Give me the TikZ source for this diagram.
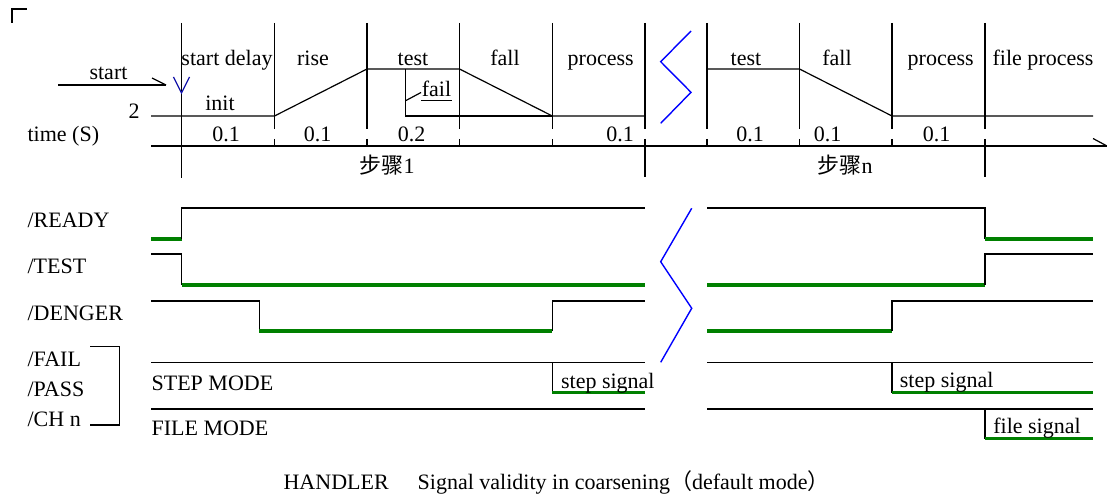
\documentclass[tikz,border=0pt]{standalone}
\usepackage{fontspec}
\setmainfont{Liberation Serif}
\newfontfamily\cjkfont{Noto Sans CJK SC}
\usetikzlibrary{
	positioning,
	calc}
\definecolor{validgreen}{RGB}{0,128,0}
\definecolor{startblue}{RGB}{20,20,170}
\tikzset{
	timing chart/.style={
		x=1pt, y=-1pt,
		line width=1.2pt,
		every node/.style={
			font=\fontsize{22}{24}\selectfont,
			inner sep=0pt,
			anchor=base}
		},
	phase/.style={anchor=base},
	signal name/.style={anchor=base west},
	valid/.style={
		draw=validgreen,
		line width=3.6pt
	},
	break mark/.style={
		draw=blue,
		line width=1.4pt
	},
}

\begin{document}
\begin{tikzpicture}[timing chart]
	\useasboundingbox (0,0) rectangle (1107,497);
	\draw (12,23) -- (12,9) -- (27,9);
%
	% phase borders and time axis
	\draw (181.5,23) -- (181.5,178);
	\draw (274.5,23) -- (274.5,129) (274.5,139) -- (274.5,146);
	\draw (367,23) -- (367,129) (367,139) -- (367,146);
	\draw (459.5,23) -- (459.5,129) (459.5,139) -- (459.5,146);
	\draw (552.3,23) -- (552.3,129) (552.3,139) -- (552.3,146);
	\draw (645,23) -- (645,129) (645,139) -- (645,177);
	\draw (707,23) -- (707,129) (707,139) -- (707,146);
	\draw (799.5,23) -- (799.5,129) (799.5,139) -- (799.5,146);
	\draw (892,23) -- (892,129) (892,139) -- (892,146);
	\draw (985,23) -- (985,129) (985,139) -- (985,177);
	\draw (151,146) -- (1107,146);
	\draw (1093,138.5) -- (1107,146);
%
	% level curve
	\draw (151,116) -- (274.5,116) -- (367,69) -- (459.5,69) -- (552.3,116) -- (645,116);
	\draw (405.7,69) -- (405.7,116) -- (552.3,116);
	\draw (707,69) -- (799.5,69) -- (892,116) -- (1093,116);
	\draw (406,100.5) -- (421,92.5);
	\draw (421,100.5) -- (452,100.5);
	\draw (58,85) -- (166,85);
	\draw (152,78) -- (166,85);
	\draw[startblue] (173.5,77) -- (181.5,93) -- (189.5,77);
%
	\node[phase] (start)  at (108.5,80)  {start};
	\node[phase] (level)  at (134,119)   {2};
	\node[signal name] (time) at (27,141.5) {time (S)};
	\node[phase] (delay)  at (227,65.5)  {start delay};
	\node[phase] (rise)   at (313,65.5)  {rise};
	\node[phase] (test1)  at (413,65.5)  {test};
	\node[phase] (fall1)  at (505,65.5)  {fall};
	\node[phase] (proc1)  at (600.7,65.5) {process};
	\node[phase] (testn)  at (746,65.5)  {test};
	\node[phase] (falln)  at (837,65.5)  {fall};
	\node[phase] (procn)  at (940.7,65.5) {process};
	\node[phase] (fproc)  at (1043,65.5) {file process};
	\node[phase] (init)   at (220,110.7) {init};
	\node[phase] (fail)   at (436.5,96.5) {fail};
	\node[phase] (t1)     at (226,141.7) {0.1};
	\node[phase] (t2)     at (317.5,141.7) {0.1};
	\node[phase] (t3)     at (411.7,141.7) {0.2};
	\node[phase] (t4)     at (620,141.7) {0.1};
	\node[phase] (t5)     at (750,141.7) {0.1};
	\node[phase] (t6)     at (827.5,141.7) {0.1};
	\node[phase] (t7)     at (936.7,141.7) {0.1};
	\node[phase] (step1)  at (387,174)   {{\cjkfont 步骤}1};
	\node[phase] (stepn)  at (845,174)   {{\cjkfont 步骤}n};
%
	% break marks
	\draw[break mark] (691,31) -- (660.7,61.7) -- (691,92.3) -- (660.7,123.3);
	\draw[break mark] (691.7,208.3) -- (660.7,261.7) -- (691.7,308.3) -- (660.7,362.3);
%
	% /READY
	\draw[valid] (151,239) -- (181.5,239);
	\draw (181.5,239) -- (181.5,208) -- (645,208);
	\draw (707,208) -- (985,208) -- (985,239);
	\draw[valid] (985,239) -- (1093,239);
	% /TEST
	\draw (151,254) -- (181.5,254) -- (181.5,285);
	\draw[valid] (181.5,285) -- (645,285);
	\draw[valid] (707,285) -- (985,285);
	\draw (985,285) -- (985,254) -- (1093,254);
	% /DENGER
	\draw (151,301) -- (259.3,301) -- (259.3,331);
	\draw[valid] (259.3,331) -- (552.3,331);
	\draw (552.3,331) -- (552.3,301) -- (645,301);
	\draw[valid] (707,331) -- (892,331);
	\draw (892,331) -- (892,301) -- (1093,301);
	% step mode
	\draw (151,362.3) -- (645,362.3);
	\draw (552.3,362.3) -- (552.3,392.5);
	\draw[valid] (552.3,392.5) -- (645,392.5);
	\draw (707,362.3) -- (1093,362.3);
	\draw (892,362.3) -- (892,392.5);
	\draw[valid] (892,392.5) -- (1093,392.5);
	% file mode
	\draw (151,409) -- (645,409);
	\draw (707,409) -- (1093,409);
	\draw (985,409) -- (985,438.5);
	\draw[valid] (985,438.5) -- (1093,438.5);
	\draw (90,346.7) -- (119.3,346.7) -- (119.3,425) -- (90,425);
%
	\node[signal name] (ready)  at (27,227)   {/READY};
	\node[signal name] (testsg) at (27,273)   {/TEST};
	\node[signal name] (denger) at (27,320)   {/DENGER};
	\node[signal name] (failsg) at (27,366.5) {/FAIL};
	\node[signal name] (pass)   at (27,396.5) {/PASS};
	\node[signal name] (chn)    at (27,426.5) {/CH n};
	\node[signal name] (smode)  at (151,390)  {STEP MODE};
	\node[signal name] (fmode)  at (151,435)  {FILE MODE};
	\node[signal name] (ssig1)  at (560.5,388.3) {step signal};
	\node[signal name] (ssign)  at (899.3,387.3) {step signal};
	\node[signal name] (fsig)   at (992.7,433.3) {file signal};
	\node[signal name] (caption) at (283,489)
		{HANDLER\hspace{29pt}Signal validity in coarsening{\cjkfont （}default mode{\cjkfont ）}};
\end{tikzpicture}
\end{document}
